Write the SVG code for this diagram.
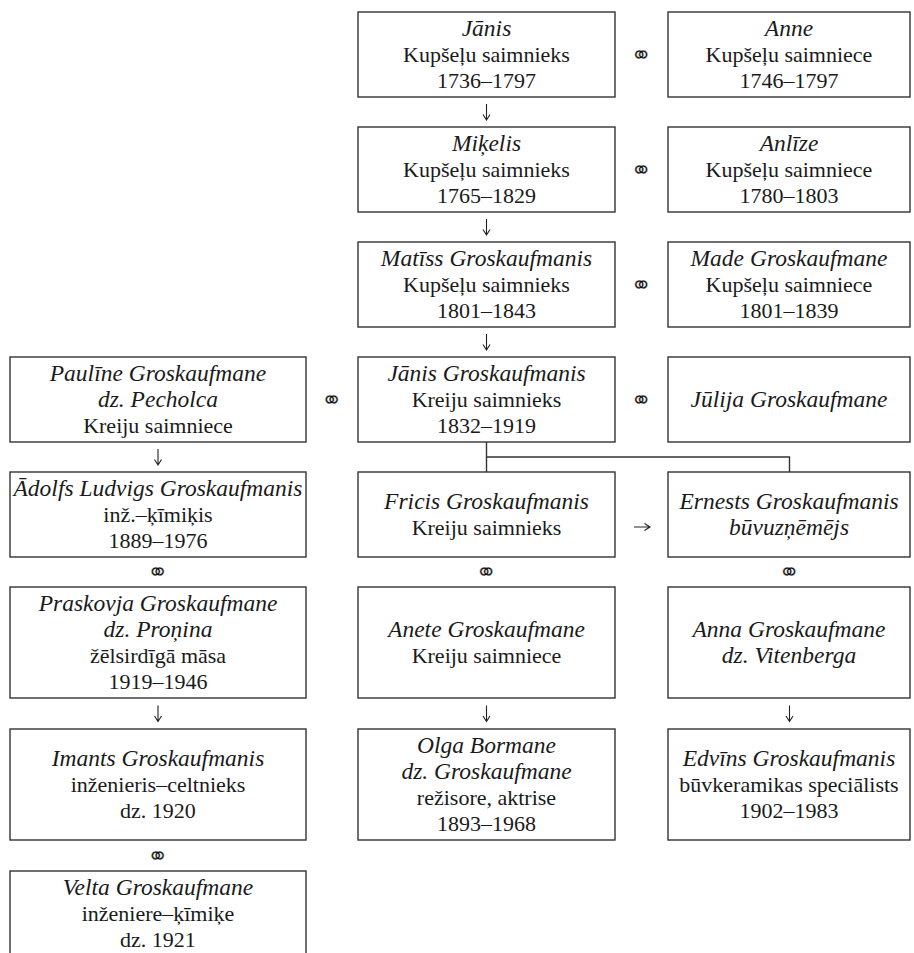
<svg xmlns="http://www.w3.org/2000/svg" width="914" height="953" viewBox="0 0 914 953">
<style>
rect.b{fill:#fff;stroke:#333;stroke-width:1.4}
text{font-family:"Liberation Serif","Times New Roman",serif;font-size:22px;fill:#1a1a1a;text-anchor:middle}
.i{font-style:italic;font-size:23.5px}
.m{font-family:"DejaVu Sans","Noto Sans",sans-serif;font-size:26px;fill:#111;stroke:#fff;stroke-width:0.35}
.ln{stroke:#333;stroke-width:1.4;fill:none}
.ar{stroke:#222;stroke-width:1.1;fill:none}
</style>
<rect width="914" height="953" fill="#fff"/>
<g id="connectors">
<path class="ln" d="M486.5 442V472M486.5 457H789.5V472"/>
<path class="ar" d="M486.5 104V120M483 114.5L486.5 120L490 114.5"/>
<path class="ar" d="M486.5 219V235M483 229.5L486.5 235L490 229.5"/>
<path class="ar" d="M486.5 334V350M483 344.5L486.5 350L490 344.5"/>
<path class="ar" d="M158 449V465M154.5 459.5L158 465L161.5 459.5"/>
<path class="ar" d="M158 705.5V721.5M154.5 716L158 721.5L161.5 716"/>
<path class="ar" d="M486.5 705.5V721.5M483 716L486.5 721.5L490 716"/>
<path class="ar" d="M789.5 705.5V721.5M786 716L789.5 721.5L793 716"/>
<path class="ar" d="M634 527H650M644.5 523.5L650 527L644.5 530.5"/>
<text class="m" x="641.5" y="64">⚭</text>
<text class="m" x="641.5" y="179">⚭</text>
<text class="m" x="641.5" y="294">⚭</text>
<text class="m" x="332" y="409">⚭</text>
<text class="m" x="641.5" y="409">⚭</text>
<text class="m" x="158" y="581">⚭</text>
<text class="m" x="486.5" y="581">⚭</text>
<text class="m" x="789.5" y="581">⚭</text>
<text class="m" x="158" y="864.5">⚭</text>
</g>
<g id="janis1">
<rect class="b" x="358" y="12" width="257" height="85"/>
<text class="i" x="486.5" y="35.5">Jānis</text>
<text x="486.5" y="61.5">Kupšeļu saimnieks</text>
<text x="486.5" y="87.5">1736–1797</text>
</g>
<g id="anne">
<rect class="b" x="668" y="12" width="242" height="85"/>
<text class="i" x="789" y="35.5">Anne</text>
<text x="789" y="61.5">Kupšeļu saimniece</text>
<text x="789" y="87.5">1746–1797</text>
</g>
<g id="mikelis">
<rect class="b" x="358" y="127" width="257" height="85"/>
<text class="i" x="486.5" y="150.5">Miķelis</text>
<text x="486.5" y="176.5">Kupšeļu saimnieks</text>
<text x="486.5" y="202.5">1765–1829</text>
</g>
<g id="anlize">
<rect class="b" x="668" y="127" width="242" height="85"/>
<text class="i" x="789" y="150.5">Anlīze</text>
<text x="789" y="176.5">Kupšeļu saimniece</text>
<text x="789" y="202.5">1780–1803</text>
</g>
<g id="matiss">
<rect class="b" x="358" y="242" width="257" height="85"/>
<text class="i" x="486.5" y="265.5">Matīss Groskaufmanis</text>
<text x="486.5" y="291.5">Kupšeļu saimnieks</text>
<text x="486.5" y="317.5">1801–1843</text>
</g>
<g id="made">
<rect class="b" x="668" y="242" width="242" height="85"/>
<text class="i" x="789" y="265.5">Made Groskaufmane</text>
<text x="789" y="291.5">Kupšeļu saimniece</text>
<text x="789" y="317.5">1801–1839</text>
</g>
<g id="pauline">
<rect class="b" x="10" y="357" width="296" height="85"/>
<text class="i" x="158" y="380.5">Paulīne Groskaufmane</text>
<text class="i" x="158" y="406.5">dz. Pecholca</text>
<text x="158" y="432.5">Kreiju saimniece</text>
</g>
<g id="janis2">
<rect class="b" x="358" y="357" width="257" height="85"/>
<text class="i" x="486.5" y="380.5">Jānis Groskaufmanis</text>
<text x="486.5" y="406.5">Kreiju saimnieks</text>
<text x="486.5" y="432.5">1832–1919</text>
</g>
<g id="julija">
<rect class="b" x="668" y="357" width="242" height="85"/>
<text class="i" x="789" y="407">Jūlija Groskaufmane</text>
</g>
<g id="adolfs">
<rect class="b" x="10" y="472" width="296" height="85"/>
<text class="i" x="158" y="495.5">Ādolfs Ludvigs Groskaufmanis</text>
<text x="158" y="521.5">inž.–ķīmiķis</text>
<text x="158" y="547.5">1889–1976</text>
</g>
<g id="fricis">
<rect class="b" x="358" y="472" width="257" height="85"/>
<text class="i" x="486.5" y="508.5">Fricis Groskaufmanis</text>
<text x="486.5" y="534.5">Kreiju saimnieks</text>
</g>
<g id="ernests">
<rect class="b" x="668" y="472" width="242" height="85"/>
<text class="i" x="789" y="508.5">Ernests Groskaufmanis</text>
<text class="i" x="789" y="534.5">būvuzņēmējs</text>
</g>
<g id="praskovja">
<rect class="b" x="10" y="587" width="296" height="111"/>
<text class="i" x="158" y="610.5">Praskovja Groskaufmane</text>
<text class="i" x="158" y="636.5">dz. Proņina</text>
<text x="158" y="662.5">žēlsirdīgā māsa</text>
<text x="158" y="688.5">1919–1946</text>
</g>
<g id="anete">
<rect class="b" x="358" y="587" width="257" height="111"/>
<text class="i" x="486.5" y="636.5">Anete Groskaufmane</text>
<text x="486.5" y="662.5">Kreiju saimniece</text>
</g>
<g id="anna">
<rect class="b" x="668" y="587" width="242" height="111"/>
<text class="i" x="789" y="636.5">Anna Groskaufmane</text>
<text class="i" x="789" y="662.5">dz. Vitenberga</text>
</g>
<g id="imants">
<rect class="b" x="10" y="729" width="296" height="111"/>
<text class="i" x="158" y="765.5">Imants Groskaufmanis</text>
<text x="158" y="791.5">inženieris–celtnieks</text>
<text x="158" y="817.5">dz. 1920</text>
</g>
<g id="olga">
<rect class="b" x="358" y="729" width="257" height="111"/>
<text class="i" x="486.5" y="752.5">Olga Bormane</text>
<text class="i" x="486.5" y="778.5">dz. Groskaufmane</text>
<text x="486.5" y="804.5">režisore, aktrise</text>
<text x="486.5" y="830.5">1893–1968</text>
</g>
<g id="edvins">
<rect class="b" x="668" y="729" width="242" height="111"/>
<text class="i" x="789" y="765.5">Edvīns Groskaufmanis</text>
<text x="789" y="791.5">būvkeramikas speciālists</text>
<text x="789" y="817.5">1902–1983</text>
</g>
<g id="velta">
<rect class="b" x="10" y="871" width="296" height="95"/>
<text class="i" x="158" y="894.5">Velta Groskaufmane</text>
<text x="158" y="920.5">inženiere–ķīmiķe</text>
<text x="158" y="946.5">dz. 1921</text>
</g>
</svg>
